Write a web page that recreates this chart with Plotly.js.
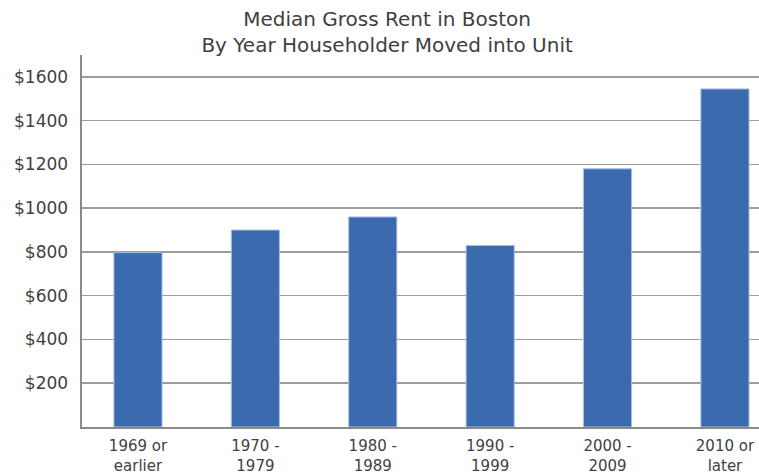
<!DOCTYPE html>
<html>
<head>
<meta charset="utf-8">
<script src="https://cdn.plot.ly/plotly-3.0.1.min.js"></script>
<style>
html, body { margin: 0; padding: 0; background: #ffffff; }
#chart { width: 759px; height: 475px; }
</style>
</head>
<body>
<div id="chart"></div>
<script>
// Data
var categories = ["1969 or<br>earlier", "1970 -<br>1979", "1980 -<br>1989", "1990 -<br>1999", "2000 -<br>2009", "2010 or<br>later"];
var medianRent = [797, 900, 960, 830, 1180, 1545];
var yTickValues = [200, 400, 600, 800, 1000, 1200, 1400, 1600];
var yTickLabels = ["$200", "$400", "$600", "$800", "$1000", "$1200", "$1400", "$1600"];
var chartTitle = "Median Gross Rent in Boston<br>By Year Householder Moved into Unit";

var trace = {
  type: "bar",
  x: categories,
  y: medianRent,
  width: 0.41,
  marker: { color: "#3B6BAE", line: { color: "#A9C0E0", width: 1 } },
  hoverinfo: "x+y"
};

var layout = {
  width: 759,
  height: 475,
  paper_bgcolor: "#ffffff",
  plot_bgcolor: "#ffffff",
  margin: { l: 82, r: 0, t: 55, b: 48 },
  showlegend: false,
  font: { family: "DejaVu Sans, Arial, sans-serif", color: "#3f3f3f" },
  title: {
    text: chartTitle,
    font: { family: "DejaVu Sans, Arial, sans-serif", size: 20, color: "#3f3f3f" },
    xref: "container", x: 0.51, xanchor: "center",
    yref: "container", y: 0.945, yanchor: "top"
  },
  xaxis: {
    type: "category",
    range: [-0.477, 5.29],
    showgrid: false,
    showline: true,
    linecolor: "#8a8a8a",
    linewidth: 2,
    ticks: "",
    ticklabelstandoff: 4,
    tickfont: { family: "DejaVu Sans, Arial, sans-serif", size: 15, color: "#3f3f3f" },
    fixedrange: true
  },
  yaxis: {
    range: [0, 1700],
    tickmode: "array",
    tickvals: yTickValues,
    ticktext: yTickLabels,
    showgrid: true,
    gridcolor: "#9c9c9c",
    gridwidth: 1.5,
    showline: true,
    linecolor: "#8a8a8a",
    linewidth: 2.5,
    zeroline: false,
    ticks: "",
    ticklabelstandoff: 8,
    tickfont: { family: "DejaVu Sans, Arial, sans-serif", size: 17, color: "#3f3f3f" },
    fixedrange: true
  }
};

Plotly.newPlot("chart", [trace], layout, { displayModeBar: false, staticPlot: true });
</script>
</body>
</html>
